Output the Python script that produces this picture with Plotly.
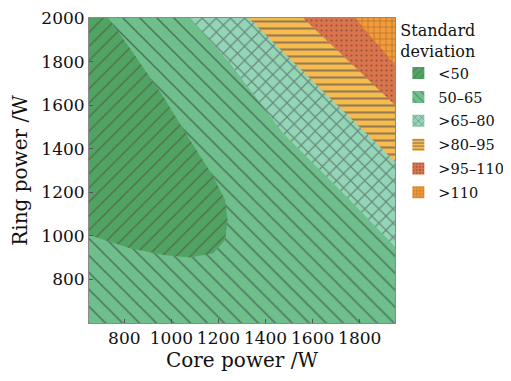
import plotly.graph_objects as go

# ---------------- data ----------------
core_range = [650, 1950]
ring_range = [600, 2000]
core_ticks = [800, 1000, 1200, 1400, 1600, 1800]
ring_ticks = [800, 1000, 1200, 1400, 1600, 1800, 2000]

# outline of the "<50" region
core_lt50 = [650, 732, 824, 966, 1079, 1178, 1228, 1239, 1228, 1178, 1079, 966, 824, 650]
ring_lt50 = [2000, 2000, 1861, 1639, 1440, 1272, 1165, 1073, 981, 920, 901, 912, 943, 1004]

# contour boundaries (lower-left edge of each upper band)
core_b65 = [1079, 1249, 1475, 1745, 1950]
ring_b65 = [2000, 1792, 1471, 1180, 950]
core_b80 = [1327, 1950]
ring_b80 = [2000, 1340]
core_b95 = [1560, 1950]
ring_b95 = [2000, 1601]
core_b110 = [1780, 1950]
ring_b110 = [2000, 1784]

categories = ["<50", "50\u201365", ">65\u201380", ">80\u201395", ">95\u2013110", ">110"]

# ---------------- styles ----------------
styles = {
    "<50": dict(shape="/", bg="#50a463", fg="#5a3a30", size=10, sol=0.15),
    "50\u201365": dict(shape="\\", bg="#6ebf8c", fg="#262626", size=12, sol=0.13),
    ">65\u201380": dict(shape="x", bg="#93d5b6", fg="#3c3c3c", size=10, sol=0.22),
    ">80\u201395": dict(shape="-", bg="#f6bb4f", fg="#353a55", size=7, sol=0.3),
    ">95\u2013110": dict(shape=".", bg="#d9744c", fg="#4a3028", size=5, sol=0.14),
    ">110": dict(shape="+", bg="#f29b38", fg="#5a4030", size=6, sol=0.2),
}

FONT = "DejaVu Serif"
TXT = "#111111"

def corner_poly(cx, cy):
    return cx + [core_range[1]] + [cx[0]], cy + [ring_range[1]] + [cy[0]]

regions = [
    ("50\u201365", [core_range[0], core_range[1], core_range[1], core_range[0], core_range[0]],
                   [ring_range[0], ring_range[0], ring_range[1], ring_range[1], ring_range[0]]),
    ("<50", core_lt50 + [core_lt50[0]], ring_lt50 + [ring_lt50[0]]),
    (">65\u201380",) + corner_poly(core_b65, ring_b65),
    (">80\u201395",) + corner_poly(core_b80, ring_b80),
    (">95\u2013110",) + corner_poly(core_b95, ring_b95),
    (">110",) + corner_poly(core_b110, ring_b110),
]

fig = go.Figure()
for name, xs, ys in regions:
    s = styles[name]
    fig.add_trace(go.Scatter(
        x=xs, y=ys, mode="lines", fill="toself",
        fillcolor=s["bg"], line=dict(width=0, color=s["bg"]),
        fillpattern=dict(shape=s["shape"], fgcolor=s["fg"], bgcolor=s["bg"],
                         size=s["size"], solidity=s["sol"]),
        showlegend=False, hoverinfo="skip",
    ))

# legend entries
for name in categories:
    s = styles[name]
    fig.add_trace(go.Bar(
        x=[None], y=[None], name=name, legendgroup=name,
        marker=dict(color=s["bg"], line=dict(width=0),
                    pattern=dict(shape=s["shape"], fgcolor=s["fg"], bgcolor=s["bg"],
                                 size=max(4, s["size"] // 2 + 1), solidity=s["sol"] * 1.2)),
    ))

axis_common = dict(
    showline=True, mirror=True, linecolor="#8a8a8a", linewidth=1,
    ticks="inside", ticklen=4, tickcolor="#555555",
    showgrid=False, zeroline=False, automargin=False,
    ticklabeloverflow="allow",
    tickfont=dict(family=FONT, size=17, color=TXT),
)

# the page adds an 8 px body margin, so the figure is 8 px smaller
fig.update_layout(
    width=503, height=373,
    margin=dict(l=81, r=116, t=10, b=58, autoexpand=False),
    paper_bgcolor="white", plot_bgcolor="white",
    xaxis=dict(range=core_range, tickvals=core_ticks,
               title=dict(text="Core power /W", font=dict(family=FONT, size=20, color=TXT), standoff=4),
               **axis_common),
    yaxis=dict(range=ring_range, tickvals=ring_ticks,
               title=dict(text="Ring power /W", font=dict(family=FONT, size=20, color=TXT), standoff=12),
               **axis_common),
    legend=dict(
        x=1.011, y=1.008, xanchor="left", yanchor="top",
        title=dict(text="Standard<br>deviation", font=dict(family=FONT, size=16, color=TXT)),
        font=dict(family=FONT, size=14.5, color=TXT),
        itemwidth=30, tracegroupgap=2,
        bgcolor="rgba(0,0,0,0)",
    ),
    showlegend=True,
)

fig.write_html("out.html")
